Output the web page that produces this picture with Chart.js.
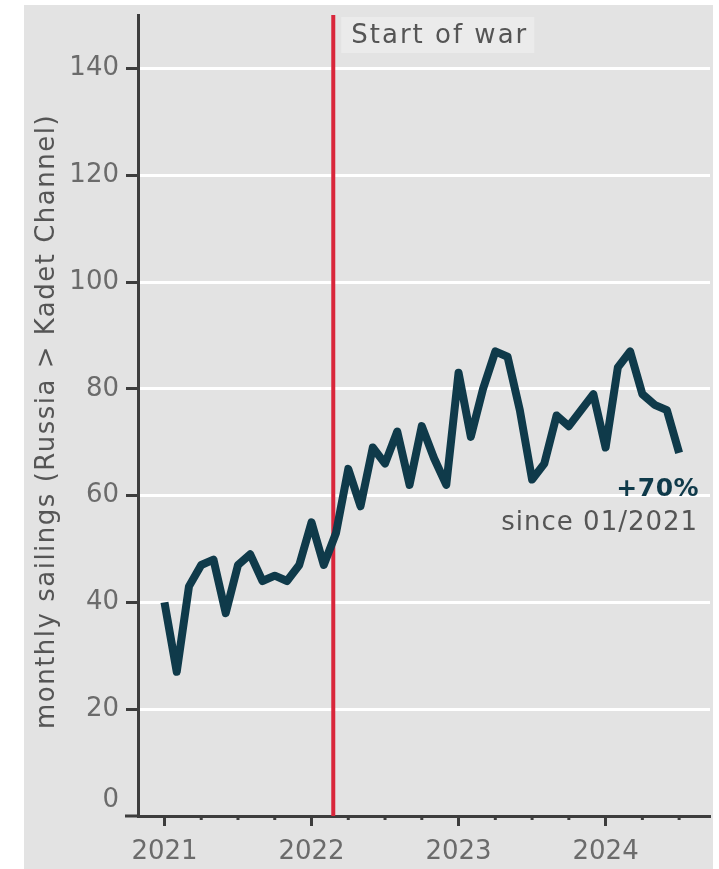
<!DOCTYPE html>
<html>
<head>
<meta charset="utf-8">
<title>Monthly sailings Russia to Kadet Channel</title>
<script src="https://cdn.jsdelivr.net/npm/chart.js@4.4.1/dist/chart.umd.min.js"></script>
<style>
  html, body { margin: 0; padding: 0; background: #fff; }
  #wrap { position: absolute; left: 24px; top: 5px; width: 689px; height: 864px; background: #e3e3e3; }
</style>
</head>
<body>
<div id="wrap"><canvas id="chart"></canvas></div>
<script>
// monthly sailings, Jan 2021 - Jul 2024
const months = [
  '2021-01','2021-02','2021-03','2021-04','2021-05','2021-06','2021-07','2021-08','2021-09','2021-10','2021-11','2021-12',
  '2022-01','2022-02','2022-03','2022-04','2022-05','2022-06','2022-07','2022-08','2022-09','2022-10','2022-11','2022-12',
  '2023-01','2023-02','2023-03','2023-04','2023-05','2023-06','2023-07','2023-08','2023-09','2023-10','2023-11','2023-12',
  '2024-01','2024-02','2024-03','2024-04','2024-05','2024-06','2024-07'
];
const sailings = [
  40, 27, 43, 47, 48, 38, 47, 49, 44, 45, 44, 47,
  55, 47, 53, 65, 58, 69, 66, 72, 62, 73, 67, 62,
  83, 71, 80, 87, 86, 76, 63, 66, 75, 73, 76, 79,
  69, 84, 87, 79, 77, 76, 68
];
const yTicks = [0, 20, 40, 60, 80, 100, 120, 140];
const yearTicks = [2021, 2022, 2023, 2024];
const warStart = '2022-02-24';
const warLabel = 'Start of war';
const yTitle = 'monthly sailings (Russia > Kadet Channel)';

const FONT = "'DejaVu Sans', sans-serif";
const INK = '#0f3a4a';
const AXIS = '#3d3d3d';
const TICK_TEXT = '#6b6b6b';
const NOTE_TEXT = '#555';

// '2021-03' or '2022-02-24' -> decimal year
const toYear = (s) => {
  const [y, m, d] = s.split('-').map(Number);
  if (!d) return y + (m - 1) / 12;
  const days = (Date.UTC(y, m - 1, d) - Date.UTC(y, 0, 1)) / 86400000;
  return y + days / 365;
};

const points = months.map((m, i) => ({ x: toYear(m), y: sailings[i] }));

const first = sailings[0];
const last = sailings[sailings.length - 1];
const change = Math.round((last / first - 1) * 100);
const changeLabel = (change >= 0 ? '+' : '') + change + '%';
const [y0, m0] = months[0].split('-');
const sinceLabel = 'since ' + m0 + '/' + y0;

const overlay = {
  id: 'overlay',
  beforeDatasetsDraw(chart) {
    const { ctx, chartArea: a, scales: { x } } = chart;
    const wx = x.getPixelForValue(toYear(warStart));
    ctx.save();
    ctx.strokeStyle = '#d9263b';
    ctx.lineWidth = 4;
    ctx.beginPath();
    ctx.moveTo(wx, a.top);
    ctx.lineTo(wx, a.bottom);
    ctx.stroke();

    ctx.font = '26px ' + FONT;
    ctx.letterSpacing = '2px';
    const w = ctx.measureText(warLabel).width;
    ctx.fillStyle = '#ebebeb';
    ctx.fillRect(wx + 8, a.top + 2, w + 16, 36);
    ctx.fillStyle = NOTE_TEXT;
    ctx.textBaseline = 'middle';
    ctx.textAlign = 'left';
    ctx.fillText(warLabel, wx + 18, a.top + 21);
    ctx.restore();
  },
  afterDraw(chart) {
    const { ctx, chartArea: a, scales: { x, y } } = chart;
    ctx.save();

    // x axis line runs a little past the y axis
    ctx.strokeStyle = AXIS;
    ctx.lineWidth = 3;
    ctx.beginPath();
    ctx.moveTo(a.left - 13, a.bottom);
    ctx.lineTo(a.left, a.bottom);
    ctx.stroke();

    // quarterly minor ticks
    yearTicks.forEach(yr => {
      [0.25, 0.5, 0.75].forEach(q => {
        const v = yr + q;
        if (v > x.max) return;
        const px = x.getPixelForValue(v);
        ctx.beginPath();
        ctx.moveTo(px, a.bottom);
        ctx.lineTo(px, a.bottom + 4);
        ctx.stroke();
      });
    });

    // zero label sits just above the x axis
    ctx.font = '26px ' + FONT;
    ctx.fillStyle = TICK_TEXT;
    ctx.textAlign = 'right';
    ctx.textBaseline = 'middle';
    ctx.fillText('0', a.left - 19, y.getPixelForValue(0) - 16);

    // y axis title, rotated
    ctx.save();
    ctx.translate(23, (a.top + a.bottom) / 2 + 6);
    ctx.rotate(-Math.PI / 2);
    ctx.textAlign = 'center';
    ctx.font = '26px ' + FONT;
    ctx.letterSpacing = '1.5px';
    ctx.fillStyle = NOTE_TEXT;
    ctx.fillText(yTitle, 0, 0);
    ctx.restore();

    // change since first month, next to the last point
    const lx = x.getPixelForValue(points[points.length - 1].x);
    const ly = y.getPixelForValue(last);
    ctx.textAlign = 'right';
    ctx.font = 'bold 25px ' + FONT;
    ctx.letterSpacing = '0.5px';
    ctx.fillStyle = INK;
    ctx.fillText(changeLabel, lx + 20, ly + 37);
    ctx.font = '26px ' + FONT;
    ctx.letterSpacing = '1px';
    ctx.fillStyle = NOTE_TEXT;
    ctx.fillText(sinceLabel, lx + 19, ly + 70);
    ctx.restore();
  }
};

new Chart(document.getElementById('chart'), {
  type: 'line',
  data: {
    datasets: [{
      data: points,
      borderColor: INK,
      borderWidth: 8,
      borderJoinStyle: 'round',
      pointRadius: 0,
      tension: 0,
      fill: false
    }]
  },
  options: {
    responsive: true,
    maintainAspectRatio: false,
    animation: false,
    layout: { padding: { top: 10, right: 3, left: 0, bottom: 0 } },
    plugins: {
      legend: { display: false },
      tooltip: { enabled: false }
    },
    scales: {
      x: {
        type: 'linear',
        min: 2020.82,
        max: 2024.71,
        afterBuildTicks: s => { s.ticks = yearTicks.map(v => ({ value: v })); },
        afterFit: s => { s.height = 53; s.paddingLeft = 0; s.paddingRight = 0; },
        grid: {
          drawOnChartArea: false,
          tickLength: 10,
          tickColor: AXIS,
          tickWidth: 3
        },
        border: { color: AXIS, width: 3 },
        ticks: {
          autoSkip: false,
          maxRotation: 0,
          padding: 11,
          color: TICK_TEXT,
          font: { family: FONT, size: 26 },
          callback: v => String(v)
        }
      },
      y: {
        min: 0,
        max: 150,
        afterBuildTicks: s => { s.ticks = yTicks.map(v => ({ value: v })); },
        afterFit: s => { s.width = 114; s.paddingTop = 0; s.paddingBottom = 0; },
        grid: {
          color: c => (c.tick && c.tick.value === 0) ? 'rgba(0,0,0,0)' : '#ffffff',
          lineWidth: 3,
          tickLength: 12,
          tickColor: c => (c.tick && c.tick.value === 0) ? 'rgba(0,0,0,0)' : AXIS,
          tickWidth: 3
        },
        border: { color: AXIS, width: 3 },
        ticks: {
          padding: 7,
          color: TICK_TEXT,
          font: { family: FONT, size: 26 },
          callback: v => v === 0 ? '' : String(v)
        },
        title: { display: false }
      }
    }
  },
  plugins: [overlay]
});
</script>
</body>
</html>
